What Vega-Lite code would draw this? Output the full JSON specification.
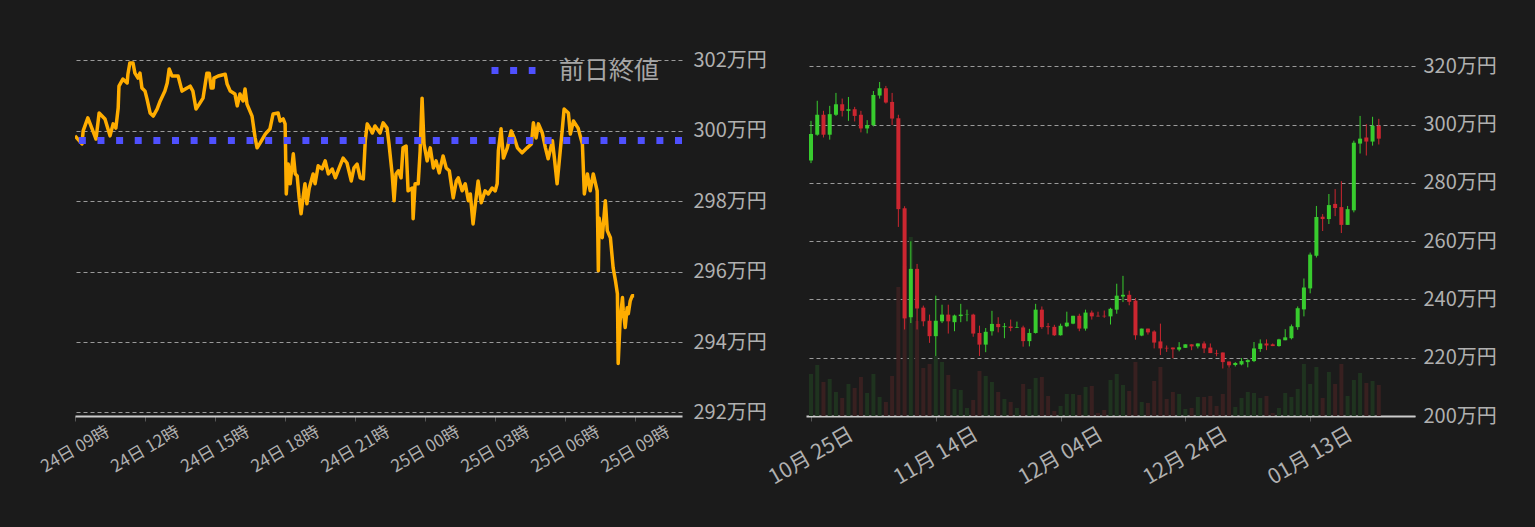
{
  "$schema": "https://vega.github.io/schema/vega-lite/v6.json",
  "background": "#1b1b1b",
  "padding": {"left": 37, "top": 45, "right": 45, "bottom": 50},
  "config": {
    "font": "Noto Sans CJK JP",
    "view": {"stroke": null},
    "axis": {
      "labelColor": "#b0b0b0",
      "gridColor": "#9a9a9a",
      "gridDash": [4, 3],
      "tickColor": "#555555",
      "domainColor": "#cccccc"
    }
  },
  "datasets": {
    "intraday": [
      {"t":"2022-01-24T09:00Z","v":299.85},{"t":"2022-01-24T09:18Z","v":299.62},{"t":"2022-01-24T09:21Z","v":299.99},{"t":"2022-01-24T09:33Z","v":300.36},{"t":"2022-01-24T09:44Z","v":300.05},{"t":"2022-01-24T09:54Z","v":299.76},{"t":"2022-01-24T10:02Z","v":300.50},{"t":"2022-01-24T10:17Z","v":300.33},{"t":"2022-01-24T10:30Z","v":299.85},{"t":"2022-01-24T10:38Z","v":300.19},{"t":"2022-01-24T10:45Z","v":300.07},{"t":"2022-01-24T10:51Z","v":300.64},{"t":"2022-01-24T10:53Z","v":301.26},{"t":"2022-01-24T11:03Z","v":301.46},{"t":"2022-01-24T11:14Z","v":301.35},{"t":"2022-01-24T11:16Z","v":301.60},{"t":"2022-01-24T11:21Z","v":301.92},{"t":"2022-01-24T11:29Z","v":301.92},{"t":"2022-01-24T11:34Z","v":301.63},{"t":"2022-01-24T11:42Z","v":301.49},{"t":"2022-01-24T11:47Z","v":301.63},{"t":"2022-01-24T11:52Z","v":301.21},{"t":"2022-01-24T12:00Z","v":301.12},{"t":"2022-01-24T12:05Z","v":300.90},{"t":"2022-01-24T12:13Z","v":300.50},{"t":"2022-01-24T12:21Z","v":300.41},{"t":"2022-01-24T12:31Z","v":300.61},{"t":"2022-01-24T12:39Z","v":300.84},{"t":"2022-01-24T12:51Z","v":301.12},{"t":"2022-01-24T12:57Z","v":301.35},{"t":"2022-01-24T13:02Z","v":301.75},{"t":"2022-01-24T13:09Z","v":301.55},{"t":"2022-01-24T13:25Z","v":301.55},{"t":"2022-01-24T13:35Z","v":301.12},{"t":"2022-01-24T13:48Z","v":301.21},{"t":"2022-01-24T13:56Z","v":301.26},{"t":"2022-01-24T14:03Z","v":301.12},{"t":"2022-01-24T14:11Z","v":300.61},{"t":"2022-01-24T14:21Z","v":300.78},{"t":"2022-01-24T14:29Z","v":300.92},{"t":"2022-01-24T14:39Z","v":301.63},{"t":"2022-01-24T14:45Z","v":301.63},{"t":"2022-01-24T14:50Z","v":301.21},{"t":"2022-01-24T14:55Z","v":301.21},{"t":"2022-01-24T14:57Z","v":301.49},{"t":"2022-01-24T15:08Z","v":301.55},{"t":"2022-01-24T15:26Z","v":301.60},{"t":"2022-01-24T15:31Z","v":301.32},{"t":"2022-01-24T15:39Z","v":301.12},{"t":"2022-01-24T15:51Z","v":301.04},{"t":"2022-01-24T15:57Z","v":300.70},{"t":"2022-01-24T16:04Z","v":301.04},{"t":"2022-01-24T16:12Z","v":300.84},{"t":"2022-01-24T16:17Z","v":301.18},{"t":"2022-01-24T16:22Z","v":300.75},{"t":"2022-01-24T16:35Z","v":300.41},{"t":"2022-01-24T16:43Z","v":299.79},{"t":"2022-01-24T16:48Z","v":299.51},{"t":"2022-01-24T16:56Z","v":299.65},{"t":"2022-01-24T17:09Z","v":299.90},{"t":"2022-01-24T17:21Z","v":300.05},{"t":"2022-01-24T17:29Z","v":300.47},{"t":"2022-01-24T17:42Z","v":300.50},{"t":"2022-01-24T17:47Z","v":300.27},{"t":"2022-01-24T17:55Z","v":300.33},{"t":"2022-01-24T18:00Z","v":300.19},{"t":"2022-01-24T18:03Z","v":298.20},{"t":"2022-01-24T18:08Z","v":299.05},{"t":"2022-01-24T18:13Z","v":298.49},{"t":"2022-01-24T18:21Z","v":299.34},{"t":"2022-01-24T18:26Z","v":298.77},{"t":"2022-01-24T18:31Z","v":298.71},{"t":"2022-01-24T18:36Z","v":298.09},{"t":"2022-01-24T18:41Z","v":297.64},{"t":"2022-01-24T18:46Z","v":298.09},{"t":"2022-01-24T18:51Z","v":298.49},{"t":"2022-01-24T18:56Z","v":297.92},{"t":"2022-01-24T19:02Z","v":298.37},{"t":"2022-01-24T19:12Z","v":298.77},{"t":"2022-01-24T19:17Z","v":298.49},{"t":"2022-01-24T19:25Z","v":299.00},{"t":"2022-01-24T19:35Z","v":298.91},{"t":"2022-01-24T19:43Z","v":299.14},{"t":"2022-01-24T19:51Z","v":298.77},{"t":"2022-01-24T20:01Z","v":298.91},{"t":"2022-01-24T20:09Z","v":298.66},{"t":"2022-01-24T20:19Z","v":298.94},{"t":"2022-01-24T20:29Z","v":299.22},{"t":"2022-01-24T20:39Z","v":299.08},{"t":"2022-01-24T20:50Z","v":298.57},{"t":"2022-01-24T20:57Z","v":298.94},{"t":"2022-01-24T21:05Z","v":299.05},{"t":"2022-01-24T21:13Z","v":298.66},{"t":"2022-01-24T21:21Z","v":298.63},{"t":"2022-01-24T21:26Z","v":299.71},{"t":"2022-01-24T21:31Z","v":300.19},{"t":"2022-01-24T21:39Z","v":300.05},{"t":"2022-01-24T21:44Z","v":299.93},{"t":"2022-01-24T21:51Z","v":300.13},{"t":"2022-01-24T22:04Z","v":299.93},{"t":"2022-01-24T22:12Z","v":300.22},{"t":"2022-01-24T22:22Z","v":300.07},{"t":"2022-01-24T22:27Z","v":299.62},{"t":"2022-01-24T22:35Z","v":298.77},{"t":"2022-01-24T22:40Z","v":298.01},{"t":"2022-01-24T22:45Z","v":298.77},{"t":"2022-01-24T22:51Z","v":298.86},{"t":"2022-01-24T22:58Z","v":298.66},{"t":"2022-01-24T23:03Z","v":299.51},{"t":"2022-01-24T23:11Z","v":299.56},{"t":"2022-01-24T23:16Z","v":298.29},{"t":"2022-01-24T23:27Z","v":298.37},{"t":"2022-01-24T23:29Z","v":297.50},{"t":"2022-01-24T23:34Z","v":298.49},{"t":"2022-01-24T23:42Z","v":298.49},{"t":"2022-01-24T23:47Z","v":299.42},{"t":"2022-01-24T23:52Z","v":300.92},{"t":"2022-01-24T23:57Z","v":299.62},{"t":"2022-01-25T00:05Z","v":299.14},{"t":"2022-01-25T00:13Z","v":299.51},{"t":"2022-01-25T00:21Z","v":298.94},{"t":"2022-01-25T00:28Z","v":299.14},{"t":"2022-01-25T00:36Z","v":298.80},{"t":"2022-01-25T00:46Z","v":299.28},{"t":"2022-01-25T00:54Z","v":298.94},{"t":"2022-01-25T01:02Z","v":298.86},{"t":"2022-01-25T01:12Z","v":298.09},{"t":"2022-01-25T01:20Z","v":298.57},{"t":"2022-01-25T01:25Z","v":298.66},{"t":"2022-01-25T01:35Z","v":298.29},{"t":"2022-01-25T01:43Z","v":298.49},{"t":"2022-01-25T01:51Z","v":298.01},{"t":"2022-01-25T01:56Z","v":298.20},{"t":"2022-01-25T02:03Z","v":297.35},{"t":"2022-01-25T02:09Z","v":297.92},{"t":"2022-01-25T02:16Z","v":298.57},{"t":"2022-01-25T02:24Z","v":297.95},{"t":"2022-01-25T02:34Z","v":298.29},{"t":"2022-01-25T02:42Z","v":298.20},{"t":"2022-01-25T02:52Z","v":298.37},{"t":"2022-01-25T03:00Z","v":298.29},{"t":"2022-01-25T03:05Z","v":298.49},{"t":"2022-01-25T03:08Z","v":299.42},{"t":"2022-01-25T03:15Z","v":300.05},{"t":"2022-01-25T03:21Z","v":299.22},{"t":"2022-01-25T03:31Z","v":299.51},{"t":"2022-01-25T03:41Z","v":299.99},{"t":"2022-01-25T03:49Z","v":299.79},{"t":"2022-01-25T03:57Z","v":299.51},{"t":"2022-01-25T04:09Z","v":299.37},{"t":"2022-01-25T04:22Z","v":299.51},{"t":"2022-01-25T04:33Z","v":299.62},{"t":"2022-01-25T04:38Z","v":300.22},{"t":"2022-01-25T04:45Z","v":299.79},{"t":"2022-01-25T04:51Z","v":300.19},{"t":"2022-01-25T05:01Z","v":299.93},{"t":"2022-01-25T05:09Z","v":299.51},{"t":"2022-01-25T05:16Z","v":299.20},{"t":"2022-01-25T05:27Z","v":299.71},{"t":"2022-01-25T05:32Z","v":299.22},{"t":"2022-01-25T05:39Z","v":298.49},{"t":"2022-01-25T05:47Z","v":299.42},{"t":"2022-01-25T05:52Z","v":299.99},{"t":"2022-01-25T05:57Z","v":300.61},{"t":"2022-01-25T06:08Z","v":300.50},{"t":"2022-01-25T06:13Z","v":299.90},{"t":"2022-01-25T06:21Z","v":300.27},{"t":"2022-01-25T06:33Z","v":300.07},{"t":"2022-01-25T06:44Z","v":299.62},{"t":"2022-01-25T06:49Z","v":298.20},{"t":"2022-01-25T06:57Z","v":298.77},{"t":"2022-01-25T07:04Z","v":298.29},{"t":"2022-01-25T07:12Z","v":298.77},{"t":"2022-01-25T07:22Z","v":298.29},{"t":"2022-01-25T07:25Z","v":296.02},{"t":"2022-01-25T07:27Z","v":297.52},{"t":"2022-01-25T07:35Z","v":296.96},{"t":"2022-01-25T07:43Z","v":298.01},{"t":"2022-01-25T07:48Z","v":297.16},{"t":"2022-01-25T07:56Z","v":296.96},{"t":"2022-01-25T08:03Z","v":296.11},{"t":"2022-01-25T08:09Z","v":295.74},{"t":"2022-01-25T08:14Z","v":295.37},{"t":"2022-01-25T08:16Z","v":293.39},{"t":"2022-01-25T08:21Z","v":294.61},{"t":"2022-01-25T08:27Z","v":295.26},{"t":"2022-01-25T08:29Z","v":294.89},{"t":"2022-01-25T08:34Z","v":294.41},{"t":"2022-01-25T08:39Z","v":294.97},{"t":"2022-01-25T08:42Z","v":294.80},{"t":"2022-01-25T08:47Z","v":295.17},{"t":"2022-01-25T08:52Z","v":295.31},{"t":"2022-01-25T08:57Z","v":295.31}
    ],
    "prevclose": [{"label": "前日終値", "v": 299.72}],
    "daily": [
      {"d":"2021-10-25","o":287.7,"h":301.3,"l":286.8,"c":296.8,"vol":42},
      {"d":"2021-10-26","o":296.55,"h":308.2,"l":296.2,"c":303.4,"vol":51},
      {"d":"2021-10-27","o":303.4,"h":304.75,"l":295.6,"c":296.55,"vol":34},
      {"d":"2021-10-28","o":296.55,"h":306.45,"l":294.85,"c":303.6,"vol":37},
      {"d":"2021-10-29","o":303.4,"h":310.9,"l":303.0,"c":307.0,"vol":24},
      {"d":"2021-10-30","o":307.0,"h":308.95,"l":302.8,"c":304.75,"vol":18},
      {"d":"2021-10-31","o":304.75,"h":309.5,"l":301.3,"c":305.3,"vol":32},
      {"d":"2021-11-01","o":305.3,"h":306.1,"l":301.1,"c":303.0,"vol":28},
      {"d":"2021-11-02","o":303.4,"h":304.75,"l":297.35,"c":298.7,"vol":39},
      {"d":"2021-11-03","o":298.7,"h":301.55,"l":297.0,"c":299.85,"vol":23},
      {"d":"2021-11-04","o":299.85,"h":311.55,"l":299.4,"c":310.2,"vol":42},
      {"d":"2021-11-05","o":310.0,"h":314.65,"l":308.95,"c":312.5,"vol":19},
      {"d":"2021-11-06","o":312.5,"h":313.3,"l":307.25,"c":307.6,"vol":14},
      {"d":"2021-11-07","o":307.8,"h":310.9,"l":299.85,"c":302.1,"vol":40},
      {"d":"2021-11-08","o":302.2,"h":303.4,"l":264.9,"c":271.0,"vol":129},
      {"d":"2021-11-09","o":271.3,"h":272.0,"l":229.7,"c":233.5,"vol":150},
      {"d":"2021-11-10","o":233.9,"h":260.0,"l":231.9,"c":250.5,"vol":179},
      {"d":"2021-11-11","o":250.5,"h":252.2,"l":229.7,"c":236.9,"vol":95},
      {"d":"2021-11-12","o":237.2,"h":237.9,"l":230.8,"c":232.5,"vol":48},
      {"d":"2021-11-13","o":232.7,"h":234.8,"l":225.1,"c":227.4,"vol":52},
      {"d":"2021-11-14","o":227.4,"h":241.3,"l":220.6,"c":232.7,"vol":60},
      {"d":"2021-11-15","o":232.5,"h":238.2,"l":231.9,"c":234.8,"vol":54},
      {"d":"2021-11-16","o":234.8,"h":238.2,"l":228.3,"c":232.5,"vol":41},
      {"d":"2021-11-17","o":232.2,"h":234.8,"l":229.1,"c":234.5,"vol":27},
      {"d":"2021-11-18","o":234.3,"h":238.5,"l":232.2,"c":234.8,"vol":26},
      {"d":"2021-11-19","o":234.7,"h":236.5,"l":232.5,"c":234.8,"vol":8},
      {"d":"2021-11-20","o":234.8,"h":235.1,"l":227.2,"c":228.3,"vol":16},
      {"d":"2021-11-21","o":228.5,"h":231.0,"l":220.6,"c":224.5,"vol":45},
      {"d":"2021-11-22","o":224.5,"h":230.2,"l":221.9,"c":228.9,"vol":40},
      {"d":"2021-11-23","o":229.1,"h":236.1,"l":227.6,"c":231.6,"vol":34},
      {"d":"2021-11-24","o":231.6,"h":233.9,"l":228.7,"c":230.5,"vol":24},
      {"d":"2021-11-25","o":230.5,"h":231.9,"l":226.7,"c":230.8,"vol":17},
      {"d":"2021-11-26","o":230.7,"h":233.1,"l":229.1,"c":230.2,"vol":14},
      {"d":"2021-11-27","o":230.3,"h":232.4,"l":230.2,"c":230.5,"vol":8},
      {"d":"2021-11-28","o":230.4,"h":231.0,"l":223.8,"c":225.7,"vol":32},
      {"d":"2021-11-29","o":225.7,"h":229.9,"l":223.9,"c":228.5,"vol":27},
      {"d":"2021-11-30","o":228.5,"h":238.5,"l":228.3,"c":236.5,"vol":38},
      {"d":"2021-12-01","o":236.5,"h":237.6,"l":229.9,"c":230.5,"vol":39},
      {"d":"2021-12-02","o":230.8,"h":231.9,"l":228.0,"c":230.5,"vol":20},
      {"d":"2021-12-03","o":230.6,"h":231.3,"l":227.5,"c":227.7,"vol":5},
      {"d":"2021-12-04","o":227.7,"h":231.7,"l":227.6,"c":231.0,"vol":10},
      {"d":"2021-12-05","o":230.8,"h":235.8,"l":230.5,"c":232.05,"vol":22},
      {"d":"2021-12-06","o":231.7,"h":234.4,"l":231.5,"c":234.4,"vol":22},
      {"d":"2021-12-07","o":234.4,"h":235.1,"l":229.1,"c":230.0,"vol":21},
      {"d":"2021-12-08","o":230.0,"h":236.5,"l":229.3,"c":235.5,"vol":29},
      {"d":"2021-12-09","o":235.5,"h":236.2,"l":233.1,"c":234.2,"vol":30},
      {"d":"2021-12-10","o":234.4,"h":235.8,"l":234.1,"c":234.2,"vol":3},
      {"d":"2021-12-11","o":234.4,"h":236.2,"l":233.7,"c":234.2,"vol":6},
      {"d":"2021-12-12","o":234.2,"h":237.15,"l":231.4,"c":236.8,"vol":36},
      {"d":"2021-12-13","o":236.5,"h":245.4,"l":235.1,"c":241.3,"vol":42},
      {"d":"2021-12-14","o":241.0,"h":248.1,"l":239.1,"c":241.6,"vol":31},
      {"d":"2021-12-15","o":241.6,"h":243.0,"l":238.0,"c":239.2,"vol":25},
      {"d":"2021-12-16","o":239.6,"h":240.5,"l":226.2,"c":227.7,"vol":54},
      {"d":"2021-12-17","o":227.6,"h":230.0,"l":227.4,"c":230.0,"vol":14},
      {"d":"2021-12-18","o":230.0,"h":230.0,"l":227.95,"c":228.7,"vol":13},
      {"d":"2021-12-19","o":229.0,"h":229.4,"l":223.2,"c":225.2,"vol":35},
      {"d":"2021-12-20","o":225.6,"h":231.7,"l":220.9,"c":223.2,"vol":49},
      {"d":"2021-12-21","o":223.4,"h":224.2,"l":222.0,"c":223.2,"vol":17},
      {"d":"2021-12-22","o":223.5,"h":223.5,"l":219.8,"c":222.9,"vol":24},
      {"d":"2021-12-23","o":222.8,"h":225.35,"l":222.2,"c":223.6,"vol":22},
      {"d":"2021-12-24","o":223.4,"h":224.6,"l":223.4,"c":224.6,"vol":7},
      {"d":"2021-12-25","o":224.6,"h":224.6,"l":222.6,"c":223.9,"vol":8},
      {"d":"2021-12-26","o":223.9,"h":224.9,"l":223.2,"c":224.9,"vol":19},
      {"d":"2021-12-27","o":224.9,"h":225.6,"l":221.6,"c":223.2,"vol":19},
      {"d":"2021-12-28","o":223.5,"h":224.9,"l":221.6,"c":221.6,"vol":20},
      {"d":"2021-12-29","o":221.5,"h":222.7,"l":220.5,"c":221.3,"vol":10},
      {"d":"2021-12-30","o":221.8,"h":221.8,"l":216.3,"c":218.5,"vol":22},
      {"d":"2021-12-31","o":218.7,"h":218.7,"l":216.6,"c":217.4,"vol":48},
      {"d":"2022-01-01","o":217.5,"h":218.5,"l":217.0,"c":218.2,"vol":9},
      {"d":"2022-01-02","o":217.7,"h":219.9,"l":217.4,"c":218.85,"vol":18},
      {"d":"2022-01-03","o":218.5,"h":219.5,"l":216.7,"c":219.2,"vol":24},
      {"d":"2022-01-04","o":218.85,"h":225.4,"l":218.5,"c":223.2,"vol":23},
      {"d":"2022-01-05","o":223.0,"h":226.3,"l":222.0,"c":224.9,"vol":18},
      {"d":"2022-01-06","o":224.9,"h":226.3,"l":222.6,"c":224.2,"vol":20},
      {"d":"2022-01-07","o":224.6,"h":224.9,"l":224.0,"c":224.0,"vol":3},
      {"d":"2022-01-08","o":224.0,"h":226.5,"l":223.8,"c":226.3,"vol":8},
      {"d":"2022-01-09","o":226.0,"h":229.8,"l":226.0,"c":227.0,"vol":23},
      {"d":"2022-01-10","o":226.7,"h":231.4,"l":226.3,"c":230.8,"vol":19},
      {"d":"2022-01-11","o":230.5,"h":237.6,"l":229.6,"c":237.0,"vol":27},
      {"d":"2022-01-12","o":236.6,"h":247.2,"l":234.2,"c":244.1,"vol":52},
      {"d":"2022-01-13","o":243.8,"h":256.1,"l":242.1,"c":255.4,"vol":32},
      {"d":"2022-01-14","o":255.0,"h":272.1,"l":254.4,"c":268.3,"vol":49},
      {"d":"2022-01-15","o":268.4,"h":269.3,"l":263.5,"c":267.6,"vol":18},
      {"d":"2022-01-16","o":267.6,"h":276.2,"l":265.9,"c":272.4,"vol":44},
      {"d":"2022-01-17","o":272.8,"h":277.9,"l":268.6,"c":271.4,"vol":32},
      {"d":"2022-01-18","o":271.7,"h":280.6,"l":262.8,"c":265.6,"vol":52},
      {"d":"2022-01-19","o":265.6,"h":272.1,"l":265.6,"c":271.0,"vol":20},
      {"d":"2022-01-20","o":270.6,"h":294.5,"l":269.9,"c":293.8,"vol":36},
      {"d":"2022-01-21","o":293.5,"h":303.0,"l":290.1,"c":295.2,"vol":43},
      {"d":"2022-01-22","o":295.6,"h":300.2,"l":289.4,"c":294.2,"vol":33},
      {"d":"2022-01-23","o":294.2,"h":302.7,"l":292.8,"c":299.6,"vol":35},
      {"d":"2022-01-24","o":299.6,"h":302.0,"l":293.2,"c":295.2,"vol":31}
    ]
  },
  "bounds": "flush",
  "spacing": 124,
  "hconcat": [
    {
      "width": 607,
      "height": 370,
      "layer": [
        {
          "data": {"name": "intraday"},
          "mark": {"type": "line", "color": "#ffad00", "strokeWidth": 3.5, "strokeJoin": "round", "clip": true},
          "encoding": {
            "x": {
              "field": "t", "type": "temporal", "title": null,
              "scale": {"type": "utc", "domain": [1643014800000, 1643108400000], "nice": false},
              "axis": {
                "format": "%d日 %H時",
                "values": [1643014800000, 1643025600000, 1643036400000, 1643047200000, 1643058000000, 1643068800000, 1643079600000, 1643090400000, 1643101200000],
                "grid": false, "domainWidth": 2, "tickSize": 5,
                "labelAngle": -30, "labelAlign": "center", "labelBaseline": "middle",
                "labelPadding": 28, "labelFontSize": 17, "labelOverlap": false, "labelFlush": false
              }
            },
            "y": {
              "field": "v", "type": "quantitative", "title": null,
              "scale": {"domain": [291.9, 302.4], "nice": false, "zero": false},
              "axis": {
                "orient": "right", "values": [292, 294, 296, 298, 300, 302],
                "labelExpr": "datum.value + '万円'", "domain": false, "ticks": false,
                "labelPadding": 11, "labelFontSize": 20
              }
            }
          }
        },
        {
          "data": {"name": "prevclose"},
          "mark": {"type": "rule", "strokeWidth": 7, "strokeDash": [7, 11.63], "strokeCap": "butt"},
          "encoding": {
            "y": {"field": "v", "type": "quantitative"},
            "stroke": {
              "field": "label", "type": "nominal", "scale": {"range": ["#4f50ff"]},
              "legend": {
                "orient": "none", "legendX": 413, "legendY": -1, "title": null,
                "symbolType": "stroke", "symbolSize": 1936, "symbolStrokeWidth": 7,
                "symbolDash": [7, 11.63], "labelFontSize": 25, "labelColor": "#a6a6a6",
                "labelOffset": 20
              }
            }
          }
        }
      ]
    },
    {
      "width": 609,
      "height": 370,
      "data": {"name": "daily"},
      "layer": [
        {
          "mark": {"type": "bar", "size": 4, "clip": true},
          "encoding": {
            "x": {
              "field": "d", "type": "temporal", "title": null,
              "scale": {"type": "utc", "domain": [1635120000000, 1643414400000], "nice": false},
              "axis": {
                "format": "%m月 %d日",
                "values": [1635120000000, 1636848000000, 1638576000000, 1640304000000, 1642032000000],
                "grid": false, "domainWidth": 2, "tickSize": 5,
                "labelAngle": -30, "labelAlign": "center", "labelBaseline": "middle",
                "labelPadding": 35, "labelFontSize": 21, "labelOverlap": false, "labelFlush": false
              }
            },
            "y": {"field": "vol", "type": "quantitative", "scale": {"domain": [0, 370], "nice": false}, "axis": null},
            "color": {
              "condition": {"test": "datum.c >= datum.o", "value": "#1f331f"},
              "value": "#382020"
            }
          }
        },
        {
          "mark": {"type": "rule", "strokeWidth": 1, "clip": true},
          "encoding": {
            "x": {"field": "d", "type": "temporal"},
            "y": {
              "field": "l", "type": "quantitative", "title": null,
              "scale": {"domain": [200, 327], "nice": false, "zero": false},
              "axis": {
                "orient": "right", "values": [200, 220, 240, 260, 280, 300, 320],
                "labelExpr": "datum.value + '万円'", "domain": false, "ticks": false,
                "labelPadding": 8, "labelFontSize": 20, "grid": true
              }
            },
            "y2": {"field": "h"},
            "color": {
              "condition": {"test": "datum.c >= datum.o", "value": "#38cc2e"},
              "value": "#cc2630"
            }
          }
        },
        {
          "mark": {"type": "bar", "size": 4, "clip": true},
          "encoding": {
            "x": {"field": "d", "type": "temporal"},
            "y": {
              "field": "o", "type": "quantitative",
              "scale": {"domain": [200, 327], "nice": false, "zero": false},
              "axis": null
            },
            "y2": {"field": "c"},
            "color": {
              "condition": {"test": "datum.c >= datum.o", "value": "#38cc2e"},
              "value": "#cc2630"
            }
          }
        }
      ],
      "resolve": {"scale": {"y": "independent"}}
    }
  ]
}
